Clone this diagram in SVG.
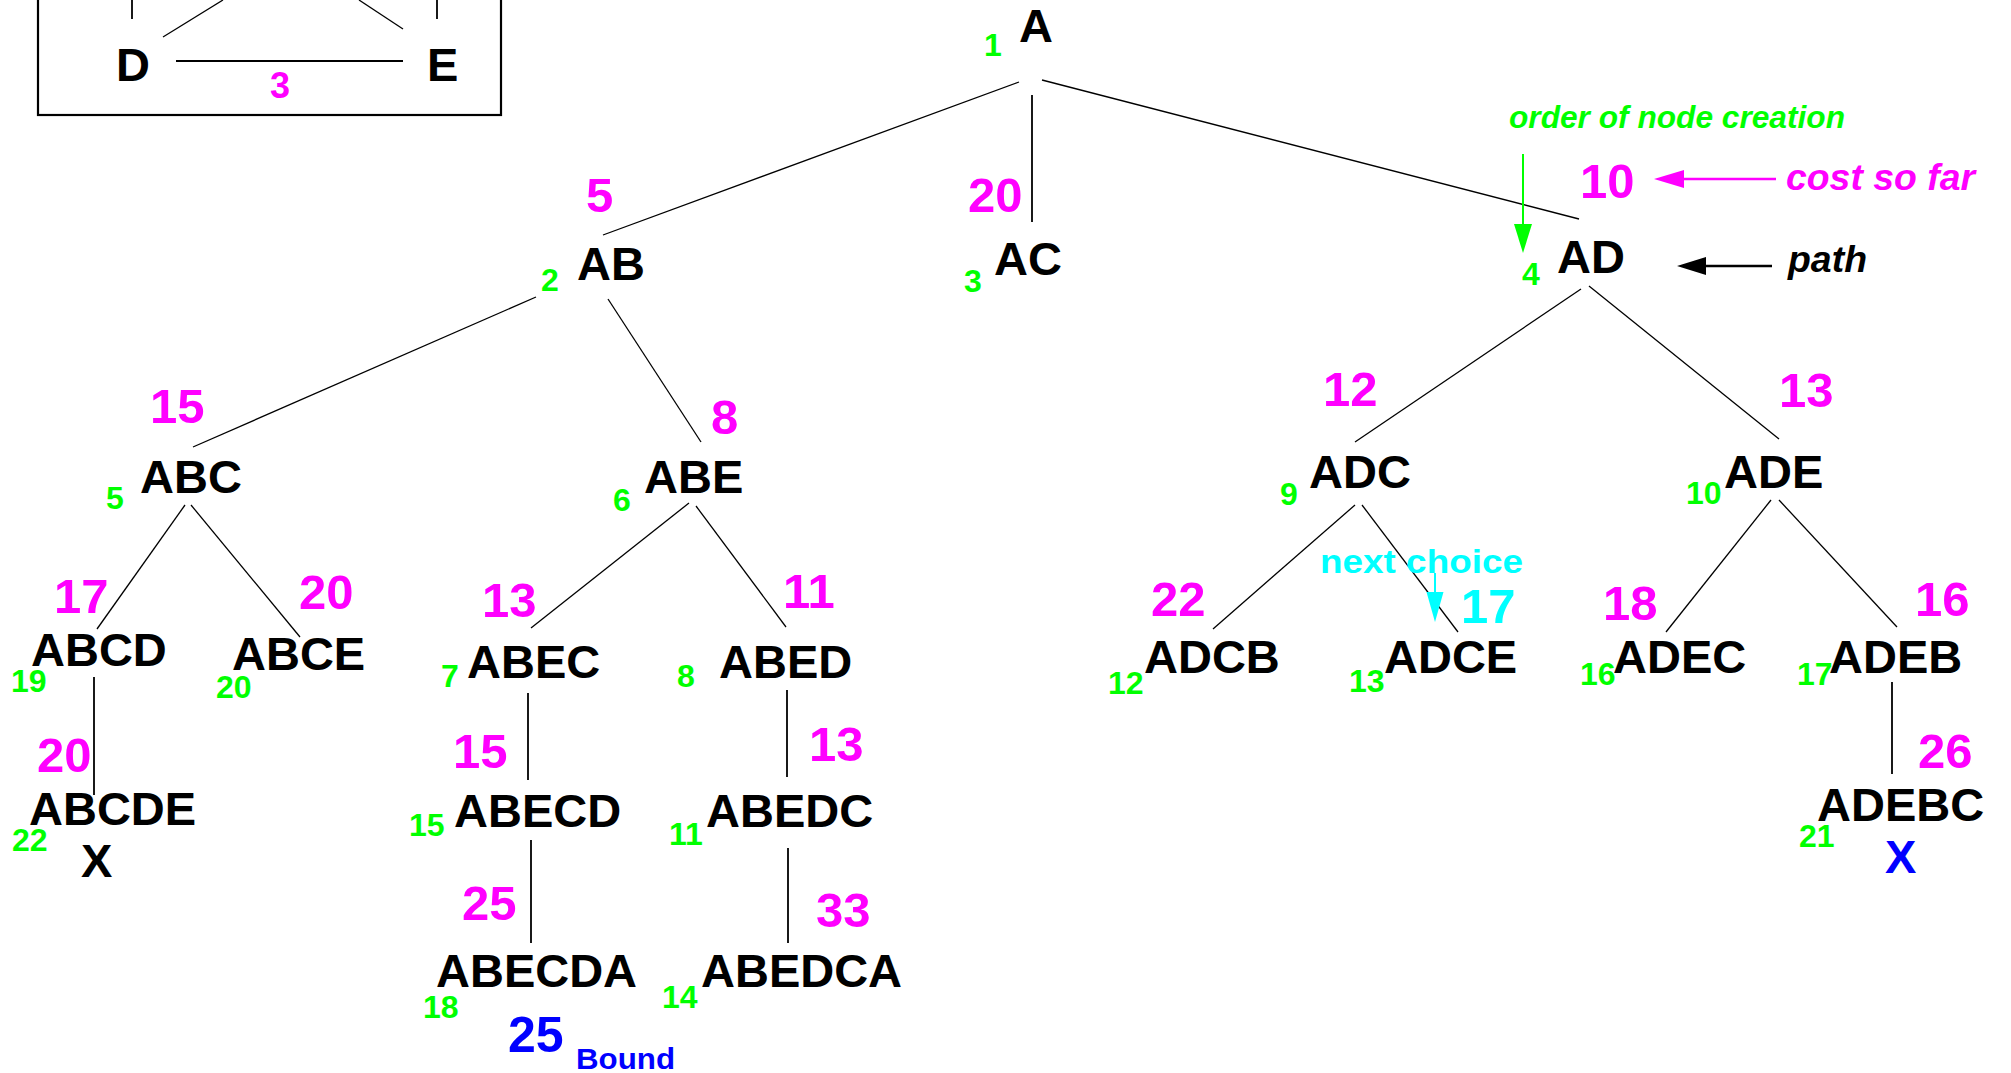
<svg xmlns="http://www.w3.org/2000/svg" width="2011" height="1073" viewBox="0 0 2011 1073">
<style>
text{font-family:"Liberation Sans",Arial,Helvetica,sans-serif;font-weight:bold}
.n{font-size:47px;fill:#000}
.c{font-size:49px;fill:#ff00ff}
.o{font-size:32px;fill:#00ff00}
.i{font-style:italic}
.e{stroke:#000;stroke-width:1.3;fill:none}
.v{stroke:#000;stroke-width:1.8;fill:none}
</style>
<rect width="2011" height="1073" fill="#fff"/>
<g id="inset">
<rect x="38" y="-20" width="463" height="135" fill="none" stroke="#000" stroke-width="2.2"/>
<line class="v" x1="132" y1="0" x2="132" y2="19"/>
<line class="v" x1="437" y1="0" x2="437" y2="19"/>
<line class="e" x1="163" y1="37" x2="223" y2="0"/>
<line class="e" x1="359" y1="0" x2="403" y2="29"/>
<line class="v" x1="176" y1="61" x2="403" y2="61" stroke-width="2"/>
<text class="n" x="116" y="81" font-size="48">D</text>
<text class="n" x="427" y="81" font-size="48">E</text>
<text class="c" x="270" y="98" style="font-size:36px">3</text>
</g>
<g id="connectors">
<line class="e" x1="1019" y1="82" x2="603" y2="235"/>
<line class="v" x1="1032" y1="95" x2="1032" y2="222"/>
<line class="e" x1="1042" y1="80" x2="1579" y2="219"/>
<line class="e" x1="536" y1="297" x2="193" y2="447"/>
<line class="e" x1="608" y1="299" x2="701" y2="442"/>
<line class="e" x1="1581" y1="289" x2="1355" y2="442"/>
<line class="e" x1="1589" y1="286" x2="1779" y2="439"/>
<line class="e" x1="185" y1="505" x2="97" y2="629"/>
<line class="e" x1="191" y1="505" x2="300" y2="637"/>
<line class="e" x1="689" y1="503" x2="531" y2="628"/>
<line class="e" x1="696" y1="506" x2="786" y2="627"/>
<line class="e" x1="1355" y1="505" x2="1213" y2="629"/>
<line class="e" x1="1362" y1="505" x2="1458" y2="632"/>
<line class="e" x1="1771" y1="500" x2="1666" y2="632"/>
<line class="e" x1="1779" y1="500" x2="1897" y2="627"/>
<line class="v" x1="94" y1="677" x2="94" y2="795"/>
<line class="v" x1="528" y1="693" x2="528" y2="780"/>
<line class="v" x1="787" y1="690" x2="787" y2="777"/>
<line class="v" x1="1892" y1="682" x2="1892" y2="774"/>
<line class="v" x1="531" y1="840" x2="531" y2="943"/>
<line class="v" x1="788" y1="848" x2="788" y2="943"/>
</g>
<g id="node-A"><text class="n" x="1019" y="42">A</text><text class="o" x="984" y="56">1</text></g>
<g id="node-AB"><text class="n" x="577" y="280">AB</text><text class="c" x="586" y="212">5</text><text class="o" x="541" y="291">2</text></g>
<g id="node-AC"><text class="n" x="994" y="275">AC</text><text class="c" x="968" y="212">20</text><text class="o" x="964" y="292">3</text></g>
<g id="node-AD"><text class="n" x="1557" y="273">AD</text><text class="c" x="1580" y="198">10</text><text class="o" x="1522" y="285">4</text></g>
<g id="node-ABC"><text class="n" x="140" y="493">ABC</text><text class="c" x="150" y="423">15</text><text class="o" x="106" y="509">5</text></g>
<g id="node-ABE"><text class="n" x="644" y="493">ABE</text><text class="c" x="711" y="434">8</text><text class="o" x="613" y="511">6</text></g>
<g id="node-ADC"><text class="n" x="1309" y="488">ADC</text><text class="c" x="1323" y="406">12</text><text class="o" x="1280" y="505">9</text></g>
<g id="node-ADE"><text class="n" x="1724" y="488">ADE</text><text class="c" x="1779" y="407">13</text><text class="o" x="1686" y="504">10</text></g>
<g id="node-ABCD"><text class="n" x="31" y="666">ABCD</text><text class="c" x="54" y="613">17</text><text class="o" x="11" y="692">19</text></g>
<g id="node-ABCE"><text class="n" x="232" y="670">ABCE</text><text class="c" x="299" y="609">20</text><text class="o" x="216" y="698">20</text></g>
<g id="node-ABEC"><text class="n" x="467" y="678">ABEC</text><text class="c" x="482" y="617">13</text><text class="o" x="441" y="687">7</text></g>
<g id="node-ABED"><text class="n" x="719" y="678">ABED</text><text class="c" x="783" y="608">11</text><text class="o" x="677" y="687">8</text></g>
<g id="node-ADCB"><text class="n" x="1144" y="673">ADCB</text><text class="c" x="1151" y="616">22</text><text class="o" x="1108" y="694">12</text></g>
<g id="node-ADCE"><text class="n" x="1384" y="673">ADCE</text><text class="c" x="1461" y="623" style="fill:#00ffff">17</text><text class="o" x="1349" y="692">13</text></g>
<g id="node-ADEC"><text class="n" x="1613" y="673">ADEC</text><text class="c" x="1603" y="620">18</text><text class="o" x="1580" y="685">16</text></g>
<g id="node-ADEB"><text class="n" x="1829" y="673">ADEB</text><text class="c" x="1915" y="616">16</text><text class="o" x="1797" y="685">17</text></g>
<g id="node-ABCDE"><text class="n" x="29" y="825">ABCDE</text><text class="c" x="37" y="772">20</text><text class="o" x="12" y="851">22</text><text class="n" x="81" y="877">X</text></g>
<g id="node-ABECD"><text class="n" x="454" y="827">ABECD</text><text class="c" x="453" y="768">15</text><text class="o" x="409" y="836">15</text></g>
<g id="node-ABEDC"><text class="n" x="706" y="827">ABEDC</text><text class="c" x="809" y="761">13</text><text class="o" x="669" y="845">11</text></g>
<g id="node-ADEBC"><text class="n" x="1817" y="821">ADEBC</text><text class="c" x="1918" y="768">26</text><text class="o" x="1799" y="847">21</text><text class="n" x="1885" y="873" style="fill:#0000ff">X</text></g>
<g id="node-ABECDA"><text class="n" x="436" y="987">ABECDA</text><text class="c" x="462" y="920">25</text><text class="o" x="423" y="1018">18</text><text class="n" x="508" y="1052" style="fill:#0000ff;font-size:50px">25</text><text x="576" y="1069" textLength="99" lengthAdjust="spacingAndGlyphs" style="fill:#0000ff;font-size:30px">Bound</text></g>
<g id="node-ABEDCA"><text class="n" x="701" y="987">ABEDCA</text><text class="c" x="816" y="927">33</text><text class="o" x="662" y="1008">14</text></g>
<g id="legend">
<text class="o i" x="1509" y="128" textLength="336" lengthAdjust="spacingAndGlyphs">order of node creation</text>
<line x1="1523" y1="154" x2="1523" y2="226" stroke="#00ff00" stroke-width="2"/>
<polygon points="1514,224 1532,224 1523,253" fill="#00ff00"/>
<text class="i" x="1786" y="190" textLength="189" lengthAdjust="spacingAndGlyphs" style="font-size:36px;fill:#ff00ff">cost so far</text>
<line x1="1776" y1="179" x2="1682" y2="179" stroke="#ff00ff" stroke-width="2.5"/>
<polygon points="1684,170 1684,188 1654,179" fill="#ff00ff"/>
<text class="i" x="1788" y="272" textLength="79" lengthAdjust="spacingAndGlyphs" style="font-size:36px;fill:#000">path</text>
<line x1="1772" y1="266" x2="1704" y2="266" stroke="#000" stroke-width="2.5"/>
<polygon points="1706,257 1706,275 1677,266" fill="#000"/>
<text x="1320" y="573" textLength="203" lengthAdjust="spacingAndGlyphs" style="font-size:34px;fill:#00ffff">next choice</text>
<line x1="1435" y1="573" x2="1435" y2="594" stroke="#00ffff" stroke-width="2"/>
<polygon points="1426.5,592 1443.5,592 1435,622" fill="#00ffff"/>
</g>
</svg>
